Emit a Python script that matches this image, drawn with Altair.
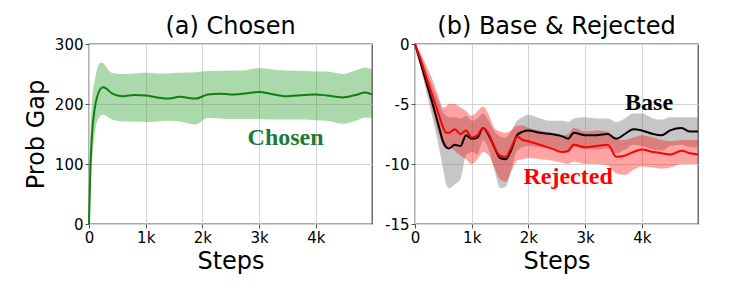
import altair as alt
import pandas as pd

# ---------------- Panel (a) Chosen ----------------
steps_a = [0, 25, 50, 100, 150, 200, 250, 300, 400, 500, 600, 800, 1000, 1200, 1400,
           1600, 1880, 2100, 2300, 2500, 2700, 3000, 3200, 3450, 3800, 4000, 4200,
           4470, 4700, 4870, 4990]
chosen_mean = [0, 95, 145, 192, 214, 225, 228, 226, 218, 214, 213, 215, 214, 211, 209,
               212, 209, 216, 217, 216, 217, 220, 217, 213, 215, 216, 214,
               211, 215, 219, 216]
chosen_hi = [0, 150, 200, 238, 260, 269, 268, 262, 252, 251, 250, 251, 252, 251, 251,
             252, 253, 255, 255, 256, 256, 260, 258, 256, 255, 254, 254,
             250, 256, 261, 258]
chosen_lo = [0, 60, 100, 150, 172, 180, 182, 180, 174, 172, 171, 171, 170, 171, 172,
             171, 166, 177, 176, 175, 175, 175, 174, 174, 174, 173, 172,
             167, 172, 177, 177]

# ---------------- Panel (b) Base & Rejected ----------------
steps_b = [0, 100, 200, 300, 400, 500, 550, 600, 700, 800, 900, 1000, 1100, 1200, 1300,
           1400, 1500, 1600, 1700, 1800, 1900, 2000, 2200, 2400, 2600, 2700, 2800, 3000,
           3200, 3400, 3550, 3700, 3850, 4000, 4200, 4350, 4500, 4700, 4850, 4990]
base_mean = [0, -1.6, -3.2, -4.8, -6.5, -8.2, -8.6, -8.7, -8.4, -8.5, -7.6, -7.9, -7.8,
             -7.0, -7.6, -8.6, -9.5, -9.6, -8.8, -7.6, -7.3, -7.2, -7.4, -7.5, -7.7,
             -7.9, -7.4, -7.6, -7.6, -7.5, -7.9, -7.5, -7.1, -7.2, -7.5, -7.6, -7.2,
             -7.0, -7.3, -7.3]
base_hi = [0, -1.0, -2.2, -3.4, -4.6, -5.7, -6.0, -6.1, -6.1, -6.2, -6.0, -6.4, -6.2,
           -5.8, -6.4, -7.3, -7.7, -7.8, -7.2, -6.4, -6.1, -5.9, -6.2, -6.4, -6.4,
           -6.5, -6.2, -6.1, -6.2, -6.2, -6.5, -6.2, -5.8, -5.8, -6.2, -6.3, -6.1,
           -6.1, -6.1, -6.1]
base_lo = [0, -2.0, -4.0, -6.0, -8.1, -10.5, -11.7, -12.0, -11.7, -11.3, -9.3, -9.0,
           -9.2, -8.0, -8.8, -10.5, -12.0, -11.9, -10.4, -8.9, -8.6, -8.5, -8.6, -8.7,
           -8.9, -9.1, -8.6, -8.8, -8.8, -8.7, -9.1, -8.8, -8.4, -8.5, -8.8, -8.9,
           -8.5, -8.4, -8.6, -8.6]
rej_mean = [0, -1.3, -2.8, -4.2, -5.6, -7.0, -7.4, -7.4, -7.1, -7.5, -7.2, -7.8, -7.6,
            -7.0, -7.5, -8.6, -9.3, -9.4, -8.6, -7.7, -8.0, -8.1, -8.4, -8.7, -9.0,
            -8.9, -8.4, -8.6, -8.5, -8.4, -9.4, -9.3, -9.0, -8.8, -9.0, -9.1, -9.2,
            -8.9, -9.1, -9.2]
rej_hi = [0, -0.8, -1.8, -2.9, -4.2, -5.3, -5.2, -5.0, -5.0, -5.3, -5.6, -6.0, -5.6,
          -5.2, -5.9, -7.0, -7.3, -7.4, -7.2, -6.8, -6.8, -7.0, -7.2, -7.4, -7.6,
          -7.5, -7.0, -7.3, -7.2, -7.3, -8.0, -8.0, -7.8, -7.6, -7.8, -8.0, -8.1,
          -8.0, -8.0, -8.0]
rej_lo = [0, -1.8, -3.6, -5.4, -7.2, -8.5, -8.7, -8.6, -8.9, -9.3, -9.6, -10.0, -9.6,
          -9.0, -9.3, -10.3, -11.3, -11.5, -10.6, -9.7, -9.6, -9.5, -9.6, -9.7, -9.9,
          -10.0, -9.8, -10.0, -10.0, -10.1, -10.8, -10.9, -10.5, -10.2, -10.3, -10.4,
          -10.3, -10.0, -10.0, -10.0]

# Annotation labels (in data coordinates)
label_text = ["Chosen", "Base", "Rejected"]
label_step = [3466, 4127, 2700]
label_val = [143, -4.9, -11.1]

x_ticks = [0, 1000, 2000, 3000, 4000]
ya_ticks = [0, 100, 200, 300]
yb_ticks = [0, -5, -10, -15]

W, H = 283, 180
SANS = "DejaVu Sans"
SERIF = "Liberation Serif"

df_a = pd.DataFrame({"step": steps_a, "mean": chosen_mean, "hi": chosen_hi, "lo": chosen_lo})
df_b = pd.DataFrame({"step": steps_b, "bm": base_mean, "bh": base_hi, "bl": base_lo,
                     "rm": rej_mean, "rh": rej_hi, "rl": rej_lo})

x_label_expr = "datum.value == 0 ? '0' : format(datum.value / 1000, 'd') + 'k'"


def x_enc(title):
    return alt.X("step:Q", scale=alt.Scale(domain=[0, 4990], nice=False, zero=False),
                 axis=alt.Axis(values=x_ticks, labelExpr=x_label_expr, title=title,
                               labelFlush=False))


# ---- panel a
ya_scale = alt.Scale(domain=[0, 300], nice=False)
ya_axis = alt.Axis(values=ya_ticks, title="Prob Gap", titlePadding=6)
base_a = alt.Chart(df_a)
band_a = base_a.mark_area(color="#2ca02c", opacity=0.4, interpolate="monotone").encode(
    x=x_enc("Steps"), y=alt.Y("lo:Q", scale=ya_scale, axis=ya_axis), y2="hi:Q")
line_a = base_a.mark_line(color="#107f10", strokeWidth=2, interpolate="monotone").encode(
    x=x_enc("Steps"), y=alt.Y("mean:Q", scale=ya_scale, axis=ya_axis))
lab_a = alt.Chart(pd.DataFrame({"t": [label_text[0]], "s": [label_step[0]], "v": [label_val[0]]})).mark_text(
    font=SERIF, fontWeight="bold", fontSize=24, color="#1c7a36", baseline="middle", align="center"
).encode(x=alt.X("s:Q"), y=alt.Y("v:Q"), text="t:N")
panel_a = alt.layer(band_a, line_a, lab_a).properties(
    width=W, height=H, title=alt.TitleParams("(a) Chosen"))

# ---- panel b
yscale_b = alt.Scale(domain=[-15, 0], nice=False)
yb_axis = alt.Axis(values=yb_ticks, title=None,
                   labelExpr="datum.value < 0 ? '-' + format(-datum.value, 'd') : format(datum.value, 'd')")
base_b = alt.Chart(df_b)
gband = base_b.mark_area(color="#808080", opacity=0.45, interpolate="monotone").encode(
    x=x_enc("Steps"), y=alt.Y("bl:Q", scale=yscale_b, axis=yb_axis), y2="bh:Q")
rband = base_b.mark_area(color="#ff0000", opacity=0.36, interpolate="monotone").encode(
    x=x_enc("Steps"), y=alt.Y("rl:Q", scale=yscale_b, axis=yb_axis), y2="rh:Q")
bline = base_b.mark_line(color="black", strokeWidth=2, interpolate="monotone").encode(
    x=x_enc("Steps"), y=alt.Y("bm:Q", scale=yscale_b, axis=yb_axis))
rline = base_b.mark_line(color="#ff0000", strokeWidth=2, interpolate="monotone").encode(
    x=x_enc("Steps"), y=alt.Y("rm:Q", scale=yscale_b, axis=yb_axis))
lab_b = alt.Chart(pd.DataFrame({"t": label_text[1:], "s": label_step[1:], "v": label_val[1:],
                                "c": ["black", "#ff0000"]})).mark_text(
    font=SERIF, fontWeight="bold", fontSize=24, baseline="middle", align="center"
).encode(x=alt.X("s:Q"), y=alt.Y("v:Q"), text="t:N", color=alt.Color("c:N", scale=None))
panel_b = alt.layer(gband, rband, bline, rline, lab_b).properties(
    width=W, height=H, title=alt.TitleParams("(b) Base & Rejected"))

chart = alt.hconcat(panel_a, panel_b, spacing=6).properties(
    padding={"left": 15, "top": 6, "right": 5, "bottom": 5}
).configure_view(
    stroke="#555555", strokeWidth=1.3
).configure_axis(
    labelFont=SANS, labelFontSize=15, labelColor="black",
    titleFont=SANS, titleFontSize=24, titleFontWeight="normal", titleColor="black",
    gridColor="#d4d4d4", gridWidth=1, domain=False,
    tickColor="#555555", tickSize=4, labelPadding=2
).configure_title(
    font=SANS, fontSize=24, fontWeight="normal", color="black", anchor="middle", offset=-2
)

chart.save("out.html", embed_options={"renderer": "svg", "actions": False})
